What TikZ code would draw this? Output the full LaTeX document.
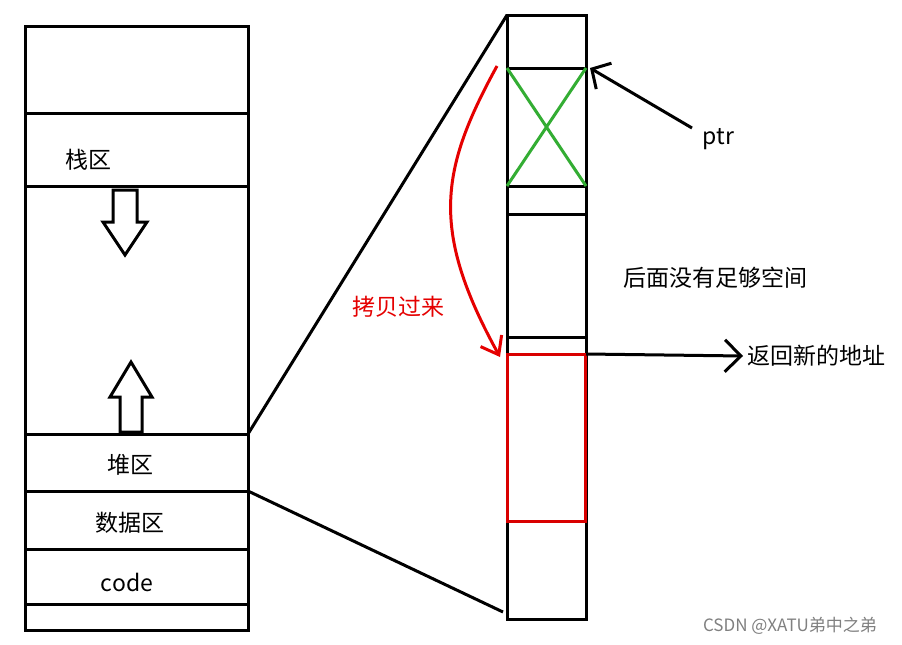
\documentclass[tikz,border=0pt]{standalone}
\usepackage{fontspec}
\setmainfont{Noto Sans CJK SC}
\usetikzlibrary{arrows.meta}
\begin{document}
\begin{tikzpicture}[x=1pt,y=-1pt,line width=3pt,
  lbl/.style={font=\fontsize{23}{27}\selectfont},
  box/.style={draw=black,line width=3pt}]
\useasboundingbox (0,0) rectangle (902,645);
\fill[white] (0,0) rectangle (902,645);
% left column
\draw[box] (25,26) rectangle (248,630);
\foreach \y in {113,186,434,491,549,604} \draw (25,\y) -- (248,\y);
\node[lbl] (stack) at (88,160) {栈区};
\node[lbl] (heap) at (130,465) {堆区};
\node[lbl] (data) at (130,523) {数据区};
\node[lbl] (code) at (127,582) {code};
% hollow arrows
\draw[line width=3pt,line join=miter] (113,190) -- (137,190) -- (137,222) -- (147,222) -- (125,255) -- (103,222) -- (113,222) -- cycle;
\draw[line width=3pt,line join=miter] (120,432) -- (142,432) -- (142,397) -- (152,397) -- (131,362) -- (110,397) -- (120,397) -- cycle;
% right column
\draw[box] (507,15) rectangle (586,619);
\foreach \y in {68,186,214,337} \draw (507,\y) -- (586,\y);
\coordinate (tl) at (507,15);
\coordinate (bl) at (503,612);
\coordinate (hp) at (248,434);
\coordinate (dt) at (248,491);
\draw (hp) -- (tl);
\draw (dt) -- (bl);
% green X
\draw[green!60!black!80,line width=3pt] (507,68) -- (586,186) (586,68) -- (507,186);
% red box
\draw[red!85!black,line width=3pt] (507,354) rectangle (585,521);
% ptr
\node[lbl,anchor=west] (ptr) at (698,139) {ptr};
\coordinate (ptrtip) at (590,68);
\draw[-{Straight Barb[length=14pt,width=30pt]}] (692,128) -- (ptrtip);
\node[lbl] (nospace) at (715,278) {后面没有足够空间};
\node[lbl,anchor=west] (ret) at (743,356) {返回新的地址};
\coordinate (rs) at (586,354);
\draw[-{Straight Barb[length=16pt,width=32pt]}] (rs) -- (ret.west);
% red copy arrow
\coordinate (c1) at (497,66);
\coordinate (c2) at (500,357);
\draw[red!90!black,line width=3pt,-{Straight Barb[length=16pt,width=24pt]}] (c1) .. controls (440,170) and (430,230) .. (c2);
\node[lbl,text=red!90!black] (copy) at (398,307) {拷贝过来};
\node[font=\fontsize{17}{19}\selectfont,text=gray] (wm) at (790,626) {CSDN @XATU弟中之弟};
\end{tikzpicture}
\end{document}
